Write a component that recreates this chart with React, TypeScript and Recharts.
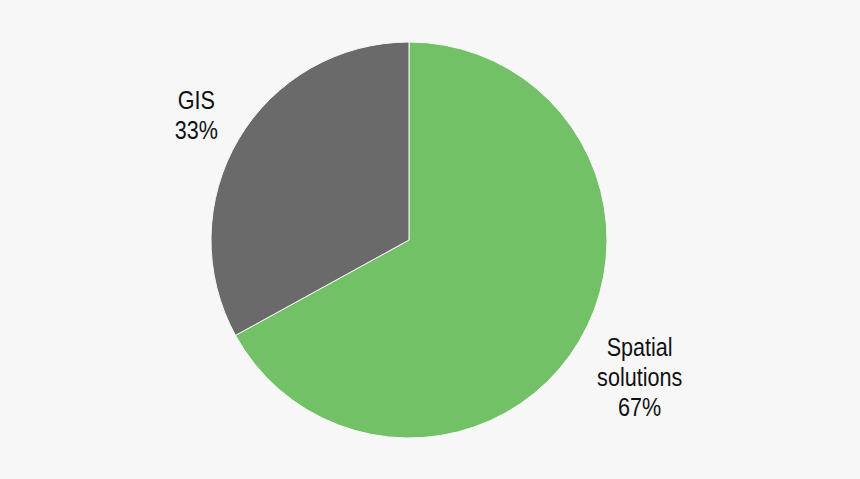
import React from 'react';
import { PieChart, Pie, Cell } from 'recharts';

const categories = ['Spatial solutions', 'GIS'];
const shares = [67, 33];
const labelLines = [['Spatial', 'solutions', '67%'], ['GIS', '33%']];

const COLORS = ['#73c167', '#6a6a6a'];

const data = categories.map((name, i) => ({ name, value: shares[i], lines: labelLines[i] }));

const RADIAN = Math.PI / 180;

const renderLabel = (props: any) => {
  const { cx, cy, midAngle, outerRadius, index } = props;
  const lines: string[] = data[index].lines;
  // push multi-line labels further out so the block clears the pie
  const r = outerRadius + 21 * lines.length + 7;
  const x = cx + r * Math.cos(-midAngle * RADIAN);
  const y = cy + r * Math.sin(-midAngle * RADIAN);
  const lineH = 30;
  const top = y - ((lines.length - 1) * lineH) / 2;
  return (
    <text
      x={x}
      y={top}
      textAnchor="middle"
      dominantBaseline="central"
      fill="#111"
      fontSize={26}
      fontFamily="'Liberation Sans Narrow', 'Arial Narrow', 'Liberation Sans', sans-serif"
      transform={`translate(${x} 0) scale(0.83 1) translate(${-x} 0)`}
    >
      {lines.map((l, i) => (
        <tspan key={i} x={x} dy={i === 0 ? 0 : lineH}>
          {l}
        </tspan>
      ))}
    </text>
  );
};

const App: React.FC = () => {
  return (
    <div style={{ position: 'absolute', left: 0, top: 0, width: 860, height: 479, background: '#f7f7f7' }}>
      <PieChart width={860} height={479} margin={{ top: 0, right: 0, bottom: 0, left: 0 }}>
        <Pie
          data={data}
          dataKey="value"
          nameKey="name"
          cx={409}
          cy={240}
          outerRadius={198}
          startAngle={90}
          endAngle={-270}
          stroke="#f7f7f7"
          strokeWidth={1}
          labelLine={false}
          label={renderLabel}
          isAnimationActive={false}
        >
          {data.map((entry, index) => (
            <Cell key={`cell-${index}`} fill={COLORS[index % COLORS.length]} />
          ))}
        </Pie>
      </PieChart>
    </div>
  );
};

export default App;
